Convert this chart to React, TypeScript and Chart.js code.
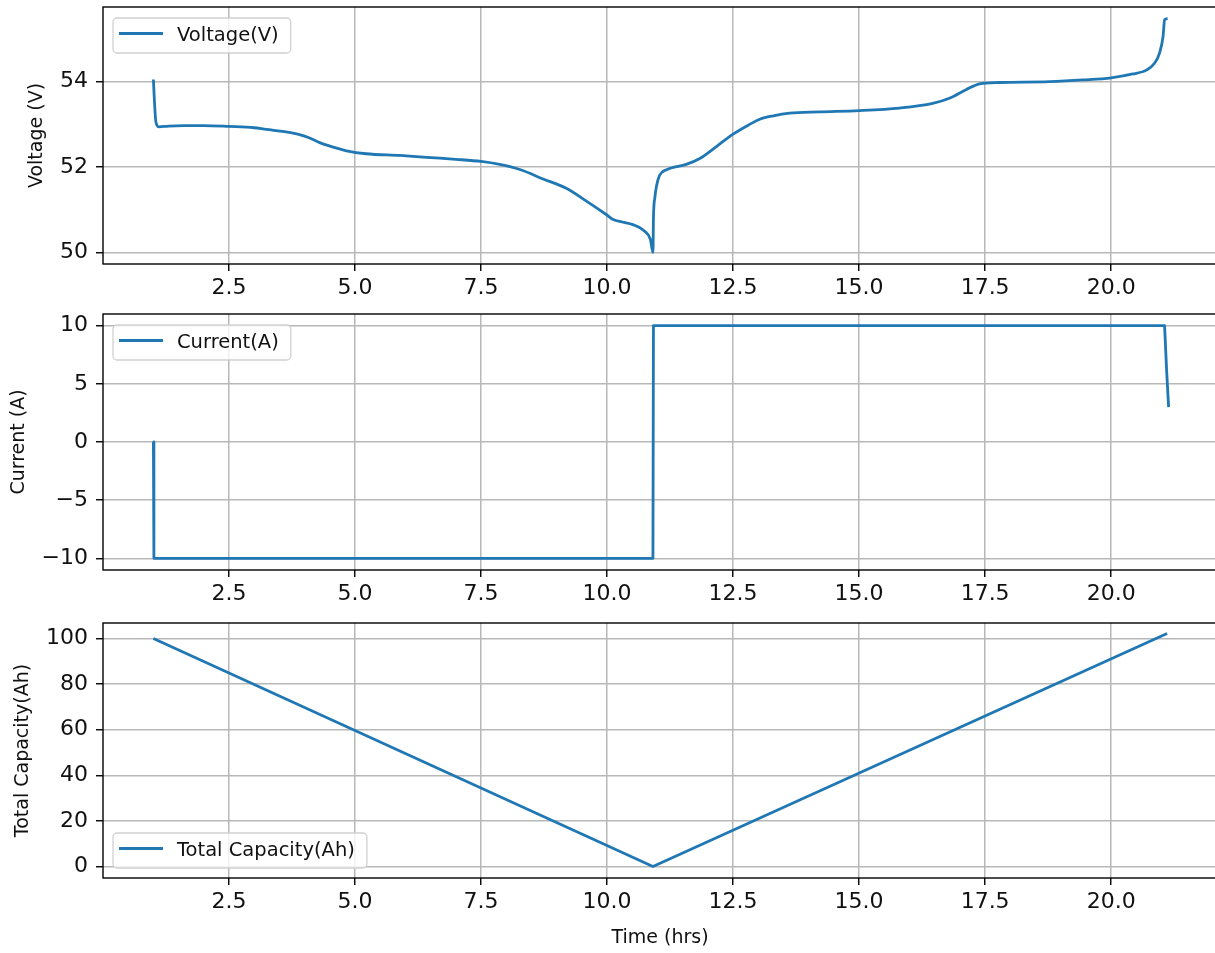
import React, { useEffect, useRef } from "react";
import { Chart, registerables } from "chart.js";

Chart.register(...registerables);

// ---------- data ----------
const voltageTime = [
  1.0, 1.02, 1.05, 1.11, 1.3, 1.6, 2.0, 2.5, 3.0, 3.24, 3.6, 3.9, 4.1, 4.3, 4.55, 4.83,
  5.22, 5.89, 6.5, 7.0, 7.5, 7.87, 8.27, 8.73, 9.19, 9.59, 9.99, 10.12, 10.3, 10.51,
  10.74, 10.86, 10.91, 10.92, 10.95, 10.98, 11.04, 11.17, 11.57, 11.84, 12.17, 12.5,
  12.8, 13.03, 13.3, 13.62, 14.2, 15.0, 15.8, 16.46, 16.79, 17.12, 17.39, 17.79, 18.78,
  19.44, 20.0, 20.43, 20.7, 20.86, 20.96, 21.03, 21.06, 21.12,
];
const voltageValues = [
  54.05, 53.55, 53.05, 52.94, 52.96, 52.97, 52.97, 52.95, 52.92, 52.88, 52.83, 52.76,
  52.68, 52.57, 52.47, 52.38, 52.31, 52.27, 52.22, 52.18, 52.13, 52.06, 51.94, 51.72,
  51.5, 51.2, 50.88, 50.77, 50.71, 50.65, 50.5, 50.3, 50.0, 50.8, 51.3, 51.55, 51.8,
  51.93, 52.06, 52.2, 52.48, 52.77, 52.98, 53.12, 53.2, 53.26, 53.29, 53.32, 53.38,
  53.49, 53.61, 53.81, 53.95, 53.98, 54.0, 54.04, 54.09, 54.18, 54.27, 54.43, 54.67,
  55.06, 55.45, 55.48,
];

const currentTime = [1.0, 1.01, 10.91, 10.92, 21.06, 21.1, 21.14];
const currentValues = [0, -10, -10, 10, 10, 6.2, 3.0];

const capacityTime = [1.0, 10.91, 21.11];
const capacityValues = [100, 0, 102.2];

const xTicks = [2.5, 5.0, 7.5, 10.0, 12.5, 15.0, 17.5, 20.0];
const voltageTicks = [50, 52, 54];
const currentTicks = [-10, -5, 0, 5, 10];
const capacityTicks = [0, 20, 40, 60, 80, 100];

// ---------- layout / style ----------
const W = 1225;
const H = 953;
const PLOT_LEFT = 103;
const PLOT_RIGHT = 1217;
const X_MIN = 0;
const X_MAX = 22.1;
const FONT = "'DejaVu Sans', 'Noto Sans', sans-serif";
const LINE = "#1f77b4";
const TICK_FONT = 22;
const LABEL_FONT = 19;
const LEGEND_FONT = 19.5;

const spinePlugin = {
  id: "mplSpines",
  afterDatasetsDraw(chart: any) {
    const { ctx, chartArea: a } = chart;
    ctx.save();
    ctx.strokeStyle = "#000";
    ctx.lineWidth = 1.4;
    ctx.strokeRect(a.left, a.top, a.right - a.left, a.bottom - a.top);
    ctx.restore();
  },
};

const legendPlugin = {
  id: "mplLegend",
  afterDraw(chart: any, _args: any, opts: any) {
    const { ctx, chartArea: a } = chart;
    ctx.save();
    ctx.font = `${LEGEND_FONT}px ${FONT}`;
    const tw = ctx.measureText(opts.text).width;
    const bw = tw + 76;
    const bh = 35;
    const bx = a.left + 10;
    const by = opts.loc === "bottom" ? a.bottom - 10 - bh : a.top + 11;
    ctx.beginPath();
    (ctx as any).roundRect(bx, by, bw, bh, 4);
    ctx.fillStyle = "rgba(255,255,255,0.8)";
    ctx.fill();
    ctx.strokeStyle = "rgba(204,204,204,0.9)";
    ctx.lineWidth = 1.3;
    ctx.stroke();
    const cy = by + bh / 2;
    ctx.beginPath();
    ctx.moveTo(bx + 6, cy - 2);
    ctx.lineTo(bx + 50, cy - 2);
    ctx.strokeStyle = LINE;
    ctx.lineWidth = 2.8;
    ctx.stroke();
    ctx.fillStyle = "#111";
    ctx.textAlign = "left";
    ctx.textBaseline = "middle";
    ctx.fillText(opts.text, bx + 64, cy);
    ctx.restore();
  },
};

type Panel = {
  xs: number[];
  ys: number[];
  legend: string;
  legendLoc: "top" | "bottom";
  yTitle: string;
  yTitlePad: number;
  yTicks: number[];
  yMin: number;
  yMax: number;
  top: number;
  bottom: number;
  xAxisH: number;
  xTitle?: string;
  smooth?: boolean;
};

const fmtY = (v: number) => (v < 0 ? "\u2212" + Math.abs(v) : String(v));

function makeConfig(p: Panel): any {
  const grid = {
    color: "#b8b8b8",
    lineWidth: 1.5,
    drawTicks: true,
    tickLength: 7,
    tickColor: "#000",
    tickWidth: 1.4,
  };
  return {
    type: "line",
    data: {
      datasets: [
        {
          label: p.legend,
          data: p.xs.map((x, i) => ({ x, y: p.ys[i] })),
          borderColor: LINE,
          borderWidth: 2.8,
          pointRadius: 0,
          fill: false,
          tension: 0,
          cubicInterpolationMode: p.smooth ? "monotone" : "default",
          borderJoinStyle: "round",
        },
      ],
    },
    options: {
      responsive: false,
      animation: false,
      devicePixelRatio: 1,
      events: [],
      layout: {
        padding: {
          left: 0,
          right: W - PLOT_RIGHT,
          top: p.top,
          bottom: H - p.bottom - p.xAxisH,
        },
      },
      plugins: {
        legend: { display: false },
        tooltip: { enabled: false },
        mplLegend: { text: p.legend, loc: p.legendLoc },
      },
      scales: {
        x: {
          type: "linear",
          min: X_MIN,
          max: X_MAX,
          afterBuildTicks: (s: any) => {
            s.ticks = xTicks.map((v) => ({ value: v }));
          },
          afterFit: (s: any) => {
            s.height = p.xAxisH;
            s.paddingLeft = 0;
            s.paddingRight = 0;
          },
          grid,
          border: { display: false },
          ticks: {
            autoSkip: false,
            maxRotation: 0,
            minRotation: 0,
            padding: 4,
            color: "#111",
            font: { family: FONT, size: TICK_FONT },
            callback: (v: any) => Number(v).toFixed(1),
          },
          title: p.xTitle
            ? {
                display: true,
                text: p.xTitle,
                color: "#111",
                font: { family: FONT, size: LABEL_FONT },
                padding: { top: 0, bottom: 3.4 },
              }
            : { display: false },
        },
        y: {
          type: "linear",
          min: p.yMin,
          max: p.yMax,
          afterBuildTicks: (s: any) => {
            s.ticks = p.yTicks.map((v) => ({ value: v }));
          },
          afterFit: (s: any) => {
            s.width = PLOT_LEFT;
            s.paddingTop = 0;
            s.paddingBottom = 0;
          },
          grid,
          border: { display: false },
          ticks: {
            autoSkip: false,
            padding: 8,
            color: "#111",
            font: { family: FONT, size: TICK_FONT },
            callback: (v: any) => fmtY(Number(v)),
          },
          title: {
            display: true,
            text: p.yTitle,
            color: "#111",
            font: { family: FONT, size: LABEL_FONT },
            padding: { top: p.yTitlePad, bottom: 0 },
          },
        },
      },
    },
    plugins: [spinePlugin, legendPlugin],
  };
}

const panels: Panel[] = [
  {
    xs: voltageTime,
    ys: voltageValues,
    legend: "Voltage(V)",
    legendLoc: "top",
    yTitle: "Voltage (V)",
    yTitlePad: 26,
    yTicks: voltageTicks,
    yMin: 49.726,
    yMax: 55.75,
    top: 7,
    bottom: 264,
    xAxisH: 40,
    smooth: true,
  },
  {
    xs: currentTime,
    ys: currentValues,
    legend: "Current(A)",
    legendLoc: "top",
    yTitle: "Current (A)",
    yTitlePad: 8,
    yTicks: currentTicks,
    yMin: -11,
    yMax: 11,
    top: 314,
    bottom: 570,
    xAxisH: 40,
  },
  {
    xs: capacityTime,
    ys: capacityValues,
    legend: "Total Capacity(Ah)",
    legendLoc: "bottom",
    yTitle: "Total Capacity(Ah)",
    yTitlePad: 12,
    yTicks: capacityTicks,
    yMin: -5.08,
    yMax: 106.8,
    top: 623,
    bottom: 878,
    xAxisH: 75,
    xTitle: "Time (hrs)",
  },
];

export default function App() {
  const r0 = useRef<HTMLCanvasElement>(null);
  const r1 = useRef<HTMLCanvasElement>(null);
  const r2 = useRef<HTMLCanvasElement>(null);

  useEffect(() => {
    const refs = [r0, r1, r2];
    const charts = refs.map((r, i) => new Chart(r.current as HTMLCanvasElement, makeConfig(panels[i])));
    return () => charts.forEach((c) => c.destroy());
  }, []);

  const cStyle: React.CSSProperties = { position: "absolute", left: 0, top: 0, width: W, height: H };
  return (
    <div
      style={{
        position: "absolute",
        left: 0,
        top: 0,
        width: 1215,
        height: 953,
        overflow: "hidden",
        background: "#fff",
      }}
    >
      <canvas ref={r0} width={W} height={H} style={cStyle} />
      <canvas ref={r1} width={W} height={H} style={cStyle} />
      <canvas ref={r2} width={W} height={H} style={cStyle} />
    </div>
  );
}
